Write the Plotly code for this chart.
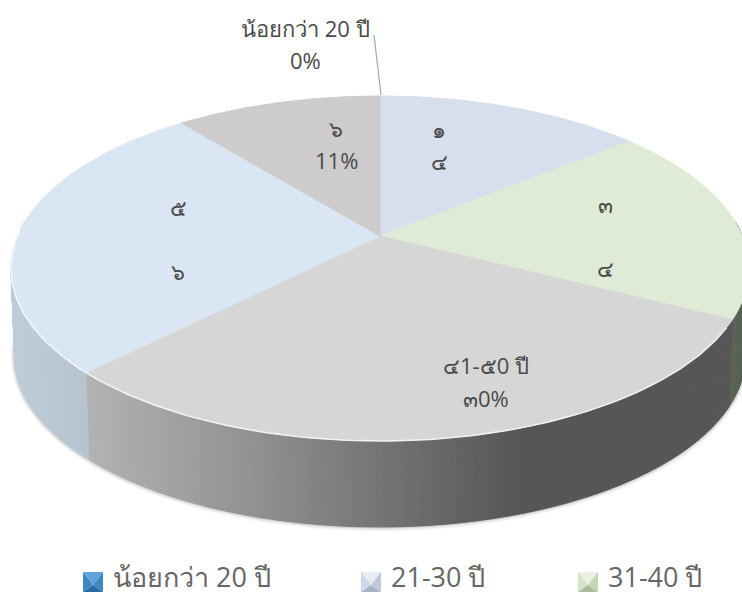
import numpy as np
import plotly.graph_objects as go

categories = ["น้อยกว่า 20 ปี", "21-30 ปี", "31-40 ปี", "41-50 ปี", "51-60 ปี", "มากกว่า 60 ปี"]
shares = [0, 14, 18.6, 29.8, 26.8, 10.8]
top_colors = ["#3a7fbd", "#d7deed", "#dfebd6", "#d6d6d6", "#dae6f3", "#cdcbcb"]
# colour of the outer wall for each slice, as (pixel x, colour) stops
side_stops = {
    1: [(0, (200, 208, 220)), (742, (200, 208, 220))],
    2: [(700, (96, 106, 90)), (742, (88, 98, 84))],
    3: [(90, (178, 178, 178)), (250, (146, 146, 146)), (400, (112, 112, 112)),
        (520, (86, 86, 86)), (742, (86, 86, 86))],
    4: [(0, (192, 206, 217)), (95, (180, 195, 207))],
    5: [(0, (190, 190, 190)), (742, (190, 190, 190))],
}

slice_text = [
    ("น้อยกว่า 20 ปี", 305, 28), ("0%", 305, 60),
    ("๑", 439, 129), ("๔", 439, 161),
    ("๓", 605, 204), ("๔", 605, 268),
    ("๔1-๕0 ปี", 486, 365), ("๓0%", 486, 398),
    ("๕", 178, 207), ("๖", 178, 271),
    ("๖", 336, 128), ("11%", 336, 160),
]
legend_names = categories[:3]
legend_x = [83, 361, 578]
legend_icons = [
    ("#5ea5de", "#3f86c4", "#2c6aa6", "#3f86c4"),
    ("#e8ecf5", "#d0d7e8", "#a8b2c6", "#c0c9dc"),
    ("#e9f1e2", "#d3e2c8", "#a9bb9c", "#c4d5b8"),
]

# perspective projection of a disc
CX, CY = 380.0, 236.0
A, B, K = 362.4, 166.4, 0.1884


def rim(phi_deg, scale=1.0, dy=0.0):
    p = np.radians(np.asarray(phi_deg, dtype=float))
    u, c = np.cos(p), np.sin(p)
    w = 1 + K * u
    return CX + scale * A * c / w, CY + dy - scale * B * u / w


def colour_at(stops, x):
    xs = [s[0] for s in stops]
    rgb = [np.interp(x, xs, [s[1][i] for s in stops]) for i in range(3)]
    return "rgb(%d,%d,%d)" % tuple(int(round(v)) for v in rgb)


edges = np.concatenate([[0], np.cumsum(shares)]) * 3.6
fig = go.Figure()


def poly(x, y, color):
    fig.add_trace(go.Scatter(x=list(x) + [x[0]], y=list(y) + [y[0]], mode="lines",
                             fill="toself", fillcolor=color,
                             line=dict(color=color, width=1),
                             hoverinfo="skip", showlegend=False))


# soft shadow under the wall
front = np.linspace(85, 275, 200)
for w, alpha in [(9, 0.04), (6, 0.06), (3, 0.10)]:
    sx, sy = rim(front, 0.99, 88)
    fig.add_trace(go.Scatter(x=sx, y=sy, mode="lines", hoverinfo="skip", showlegend=False,
                             line=dict(color="rgba(0,0,0,%g)" % alpha, width=w)))

# outer wall
for i in range(1, len(shares)):
    a0, a1 = max(edges[i], 85), min(edges[i + 1], 275)
    if a1 <= a0:
        continue
    steps = np.arange(a0, a1, 0.8).tolist() + [a1]
    for p0, p1 in zip(steps[:-1], steps[1:]):
        tx, ty = rim([p0, p1])
        bx, by = rim([p1, p0], 0.99, 88)
        xs = np.concatenate([tx, bx])
        ys = np.concatenate([ty, by])
        poly(xs, ys, colour_at(side_stops[i], xs.mean()))

# top face
for i in range(1, len(shares)):
    phi = np.linspace(edges[i], edges[i + 1], 80)
    ex, ey = rim(phi)
    poly(np.concatenate([[CX], ex]), np.concatenate([[CY], ey]), top_colors[i])

# bevel highlight on the front rim
hx, hy = rim(np.linspace(120, 272, 200))
fig.add_trace(go.Scatter(x=hx, y=hy, mode="lines", hoverinfo="skip", showlegend=False,
                         line=dict(color="rgba(255,255,255,0.75)", width=1.5)))

annotations = [dict(x=x, y=y, text=t, showarrow=False, xref="x", yref="y",
                    xanchor="center", yanchor="middle",
                    font=dict(size=22, color="#4a4a4a"))
               for t, x, y in slice_text]
shapes = [dict(type="line", x0=374, y0=35, x1=381, y1=95, xref="x", yref="y",
               line=dict(color="#a6a6a6", width=1.2))]

for name, lx, cols in zip(legend_names, legend_x, legend_icons):
    x0, x1, y0, y1 = lx, lx + 20, 572, 592
    mx, my = lx + 10, 585
    for col, pts in zip(cols, [
        [(x0, y0), (x1, y0), (mx, my)],
        [(x0, y0), (x0, y1), (mx, my)],
        [(x0, y1), (x1, y1), (mx, my)],
        [(x1, y0), (x1, y1), (mx, my)],
    ]):
        path = "M" + " L".join("%g,%g" % p for p in pts) + " Z"
        shapes.append(dict(type="path", path=path, xref="x", yref="y",
                           fillcolor=col, line=dict(width=0)))
    annotations.append(dict(x=lx + 28, y=576, text=name, showarrow=False, xref="x", yref="y",
                            xanchor="left", yanchor="middle",
                            font=dict(size=27, color="#666666")))

fig.update_layout(
    width=742, height=596, autosize=False,
    margin=dict(l=0, r=0, t=0, b=0),
    paper_bgcolor="white", plot_bgcolor="white",
    font=dict(family="'Open Sans', 'Noto Sans', 'DejaVu Sans', sans-serif"),
    xaxis=dict(range=[0, 742], visible=False, fixedrange=True),
    yaxis=dict(range=[596, 0], visible=False, fixedrange=True),
    shapes=shapes, annotations=annotations, showlegend=False,
)
fig.write_html("out.html", config=dict(displayModeBar=False),
               post_script="document.body.style.margin='0';document.documentElement.style.overflow='hidden';")
